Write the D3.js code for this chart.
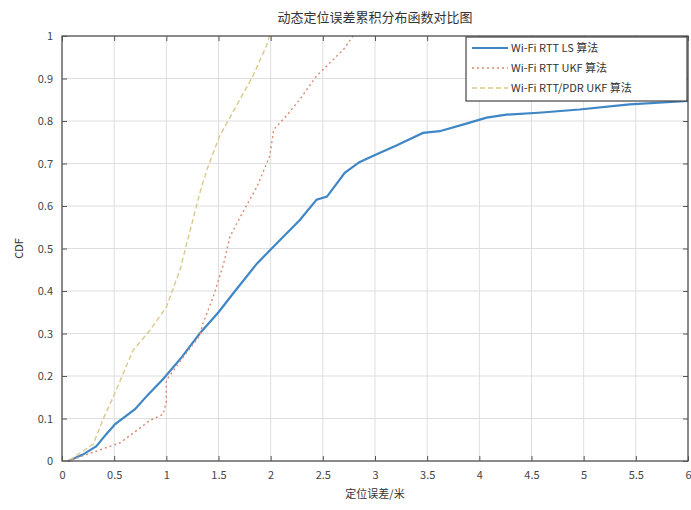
<!DOCTYPE html>
<html>
<head>
<meta charset="utf-8">
<script src="https://cdn.jsdelivr.net/npm/d3@7"></script>
<style>
  body { margin: 0; background: #fff; }
  svg text { font-family: "Noto Sans CJK SC", "DejaVu Sans", sans-serif; fill: #333; }
</style>
</head>
<body>
<div id="chart"></div>
<script>
// chart data
const chartTitle = "动态定位误差累积分布函数对比图";
const xLabel = "定位误差/米";
const yLabel = "CDF";
const seriesNames = ["Wi-Fi RTT LS 算法", "Wi-Fi RTT UKF 算法", "Wi-Fi RTT/PDR UKF 算法"];

const xTicks = [0, 0.5, 1, 1.5, 2, 2.5, 3, 3.5, 4, 4.5, 5, 5.5, 6];
const yTicks = [0, 0.1, 0.2, 0.3, 0.4, 0.5, 0.6, 0.7, 0.8, 0.9, 1];

// Wi-Fi RTT LS
const lsErr = [0, 0.06, 0.2, 0.33, 0.42, 0.51, 0.70, 0.82, 0.97, 1.15, 1.32, 1.5, 1.64, 1.87, 2.09, 2.28, 2.44, 2.54, 2.71, 2.85, 3.0, 3.2, 3.46, 3.62, 3.85, 4.07, 4.26, 4.6, 4.96, 5.44, 6.0];
const lsCdf = [0, 0, 0.015, 0.035, 0.062, 0.087, 0.122, 0.155, 0.193, 0.245, 0.30, 0.35, 0.394, 0.465, 0.52, 0.567, 0.615, 0.622, 0.678, 0.703, 0.72, 0.742, 0.772, 0.776, 0.792, 0.808, 0.815, 0.82, 0.827, 0.839, 0.847];

// Wi-Fi RTT UKF
const ukfErr = [0, 0.06, 0.56, 0.84, 0.97, 1.0, 1.0, 1.15, 1.32, 1.35, 1.45, 1.55, 1.61, 1.71, 1.87, 1.99, 2.03, 2.15, 2.28, 2.44, 2.54, 2.70, 2.79];
const ukfCdf = [0, 0, 0.043, 0.095, 0.11, 0.14, 0.19, 0.24, 0.295, 0.323, 0.386, 0.465, 0.528, 0.575, 0.646, 0.717, 0.78, 0.812, 0.851, 0.906, 0.93, 0.969, 1.0];

// Wi-Fi RTT/PDR UKF
const pdrErr = [0, 0.06, 0.30, 0.40, 0.49, 0.68, 0.84, 1.0, 1.13, 1.23, 1.32, 1.39, 1.51, 1.67, 1.83, 1.96, 1.99];
const pdrCdf = [0, 0, 0.04, 0.102, 0.15, 0.26, 0.307, 0.362, 0.449, 0.544, 0.63, 0.686, 0.764, 0.835, 0.906, 0.977, 1.0];

const colors = ["#3f86c6", "#d98a6e", "#d9c98a"];
const dashes = [null, "2,3", "5,3"];

const width = 691, height = 510;
const margin = {top: 36, right: 3, bottom: 49, left: 62};
const w = width - margin.left - margin.right;
const h = height - margin.top - margin.bottom;

const svg = d3.select("#chart").append("svg")
  .attr("width", width)
  .attr("height", height);

const g = svg.append("g")
  .attr("transform", "translate(" + margin.left + "," + margin.top + ")");

const x = d3.scaleLinear().domain([0, 6]).range([0, w]);
const y = d3.scaleLinear().domain([0, 1]).range([h, 0]);

// grid
g.append("g").selectAll("line").data(xTicks).join("line")
  .attr("x1", d => x(d)).attr("x2", d => x(d))
  .attr("y1", 0).attr("y2", h)
  .attr("stroke", "#dedede");
g.append("g").selectAll("line").data(yTicks).join("line")
  .attr("x1", 0).attr("x2", w)
  .attr("y1", d => y(d)).attr("y2", d => y(d))
  .attr("stroke", "#dedede");

// axes, ticks pointing inward
const xAxis = d3.axisBottom(x).tickValues(xTicks).tickSizeInner(-5).tickSizeOuter(0).tickPadding(10)
  .tickFormat(d3.format("~g"));
const yAxis = d3.axisLeft(y).tickValues(yTicks).tickSizeInner(-5).tickSizeOuter(0).tickPadding(9)
  .tickFormat(d3.format("~g"));

g.append("g").attr("transform", "translate(0," + h + ")").call(xAxis)
  .call(a => a.select(".domain").remove())
  .call(a => a.selectAll("text").attr("font-size", 11).style("fill", "#444"));
g.append("g").call(yAxis)
  .call(a => a.select(".domain").remove())
  .call(a => a.selectAll("text").attr("font-size", 11).style("fill", "#444"));

// top / right ticks like matlab box
g.append("g").call(d3.axisTop(x).tickValues(xTicks).tickSizeInner(-5).tickSizeOuter(0).tickFormat(""))
  .call(a => a.select(".domain").remove());
g.append("g").attr("transform", "translate(" + w + ",0)")
  .call(d3.axisRight(y).tickValues(yTicks).tickSizeInner(-5).tickSizeOuter(0).tickFormat(""))
  .call(a => a.select(".domain").remove());
g.selectAll(".tick line").attr("stroke", "#555");

const line = d3.line().x(d => x(d[0])).y(d => y(d[1]));

const series = [
  d3.zip(lsErr, lsCdf),
  d3.zip(ukfErr, ukfCdf),
  d3.zip(pdrErr, pdrCdf)
];

g.selectAll(".series").data(series).join("path")
  .attr("class", "series")
  .attr("fill", "none")
  .attr("stroke", (d, i) => colors[i])
  .attr("stroke-width", (d, i) => i === 0 ? 2.2 : 1.4)
  .attr("stroke-dasharray", (d, i) => dashes[i])
  .attr("d", line);

// frame
g.append("rect")
  .attr("width", w).attr("height", h)
  .attr("fill", "none")
  .attr("stroke", "#555")
  .attr("stroke-width", 1.3);

// legend
const lg = g.append("g").attr("transform", "translate(" + (w - 222) + ",1)");
lg.append("rect")
  .attr("width", 221).attr("height", 64)
  .attr("fill", "#fff")
  .attr("stroke", "#444")
  .attr("stroke-width", 1.2);
seriesNames.forEach((name, i) => {
  const yy = 11 + i * 20;
  lg.append("line")
    .attr("x1", 6).attr("x2", 42)
    .attr("y1", yy).attr("y2", yy)
    .attr("stroke", colors[i])
    .attr("stroke-width", i === 0 ? 2.2 : 1.4)
    .attr("stroke-dasharray", dashes[i]);
  lg.append("text")
    .attr("x", 45).attr("y", yy + 4)
    .attr("font-size", 11)
    .text(name);
});

// title and labels
svg.append("text")
  .attr("x", margin.left + w / 2).attr("y", 22)
  .attr("text-anchor", "middle")
  .attr("font-size", 13)
  .text(chartTitle);
svg.append("text")
  .attr("x", margin.left + w / 2).attr("y", 498)
  .attr("text-anchor", "middle")
  .attr("font-size", 11)
  .text(xLabel);
svg.append("text")
  .attr("transform", "translate(23," + (margin.top + h / 2) + ") rotate(-90)")
  .attr("text-anchor", "middle")
  .attr("font-size", 11)
  .text(yLabel);
</script>
</body>
</html>
